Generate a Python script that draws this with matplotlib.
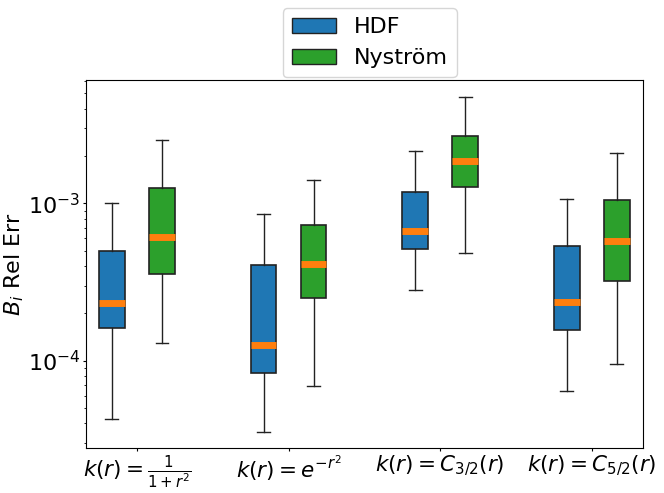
import numpy as np
import matplotlib
matplotlib.use("Agg")
import matplotlib.pyplot as plt
from matplotlib.patches import Patch

kernels = [r"$k(r)=\frac{1}{1+r^2}$", r"$k(r)=e^{-r^2}$",
           r"$k(r)=C_{3/2}(r)$", r"$k(r)=C_{5/2}(r)$"]

# whisker low, Q1, median, Q3, whisker high
hdf_low = [4.27e-5, 3.54e-5, 2.82e-4, 6.44e-5]
hdf_q1 = [1.61e-4, 8.39e-5, 5.13e-4, 1.57e-4]
hdf_med = [2.33e-4, 1.26e-4, 6.67e-4, 2.37e-4]
hdf_q3 = [5.00e-4, 4.04e-4, 1.186e-3, 5.33e-4]
hdf_high = [1.00e-3, 8.55e-4, 2.16e-3, 1.065e-3]

nys_low = [1.29e-4, 6.90e-5, 4.81e-4, 9.57e-5]
nys_q1 = [3.56e-4, 2.50e-4, 1.27e-3, 3.22e-4]
nys_med = [6.15e-4, 4.13e-4, 1.86e-3, 5.75e-4]
nys_q3 = [1.245e-3, 7.25e-4, 2.67e-3, 1.045e-3]
nys_high = [2.51e-3, 1.41e-3, 4.75e-3, 2.10e-3]


def mkStats(low, q1, med, q3, high):
    return [dict(whislo=a, q1=b, med=c, q3=d, whishi=e, fliers=[])
            for a, b, c, d, e in zip(low, q1, med, q3, high)]


fig, ax = plt.subplots(1, 1, figsize=(6.64, 4.93), dpi=100)
pos = np.arange(1, len(kernels) + 1)
off = 0.165
w = 0.17

medprops = dict(color="#ff7f0e", linewidth=5)
for stats, shift, col in [(mkStats(hdf_low, hdf_q1, hdf_med, hdf_q3, hdf_high), -off, "#1f77b4"),
                          (mkStats(nys_low, nys_q1, nys_med, nys_q3, nys_high), off, "#2ca02c")]:
    ax.bxp(stats, positions=pos + shift, widths=w, patch_artist=True,
           showfliers=False, medianprops=medprops,
           boxprops=dict(facecolor=col, edgecolor="#222222", linewidth=1.2),
           whiskerprops=dict(color="#222222", linewidth=1),
           capprops=dict(color="#222222", linewidth=1),
           manage_ticks=False)

ax.set_yscale("log")
ax.set_ylim(2.79e-5, 6.07e-3)
ax.set_xlim(0.664, 4.336)
ax.set_xticks(pos)
ax.set_xticklabels(kernels, fontsize=15.5)
ax.tick_params(axis="both", which="major", length=2.5, pad=1.5)
ax.tick_params(axis="both", which="minor", length=1.5)
ax.tick_params(axis="y", labelsize=16)
ax.set_ylabel(r"$B_i$ Rel Err", fontsize=16)
ax.yaxis.set_label_coords(-0.108, 0.5)

handles = [Patch(facecolor="#1f77b4", edgecolor="#222222", label="HDF"),
           Patch(facecolor="#2ca02c", edgecolor="#222222", label="Nyström")]
ax.legend(handles=handles, loc="lower center", bbox_to_anchor=(0.51, 1.008),
          borderaxespad=0, fontsize=16)

fig.subplots_adjust(left=0.1295, right=0.968, top=0.8377, bottom=0.0913)
fig.savefig("out.png", dpi=100)
